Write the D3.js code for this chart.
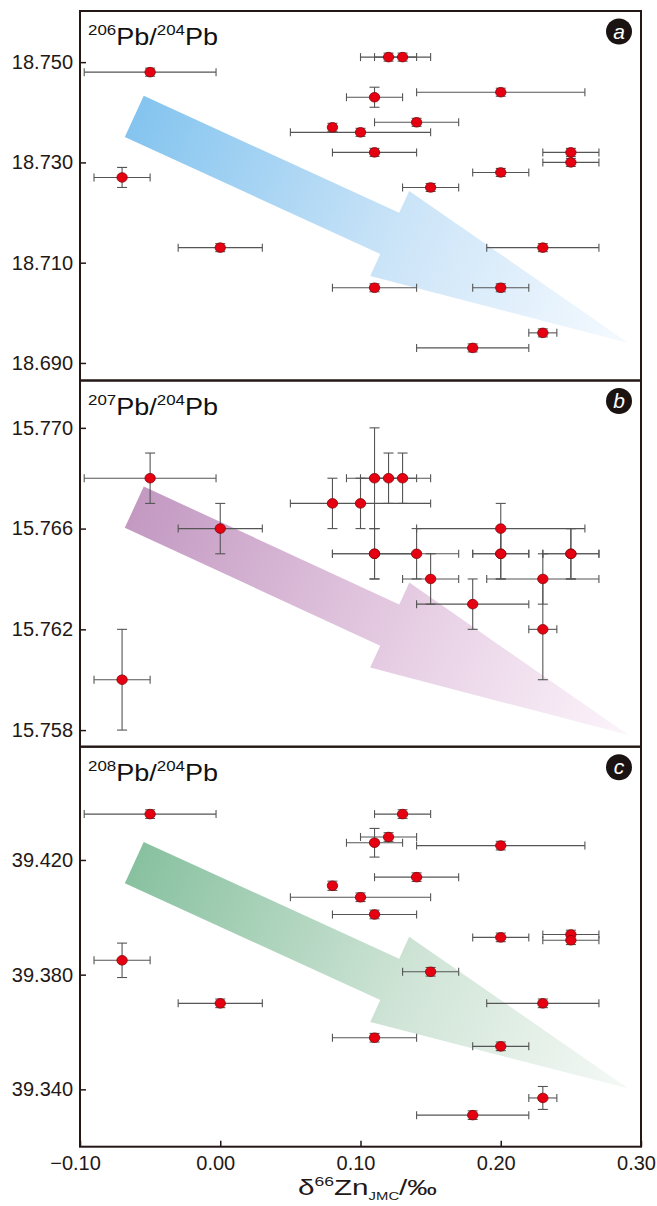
<!DOCTYPE html>
<html>
<head>
<meta charset="utf-8">
<script src="https://cdn.jsdelivr.net/npm/d3@7"></script>
<style>
  body { margin: 0; background: #ffffff; }
  svg { display: block; font-family: "Liberation Sans", Arial, sans-serif; }
</style>
</head>
<body>
<svg id="chart" width="657" height="1206"></svg>
<script>
// delta66Zn of each sample and its 2sd (same for all three panels)
let zn    = [-0.05, 0.12, 0.13, 0.11, 0.20, 0.08, 0.10, 0.14, 0.11, 0.25, 0.25, 0.20, 0.15, -0.07, 0.00, 0.23, 0.11, 0.20, 0.23, 0.18];
let znErr = [0.047, 0.02, 0.02, 0.02, 0.06, 0, 0.05, 0.03, 0.03, 0.02, 0.02, 0.02, 0.02, 0.02, 0.03, 0.04, 0.03, 0.02, 0.01, 0.04];

// lead isotope ratios
let pb206 = [18.748, 18.751, 18.751, 18.743, 18.744, 18.737, 18.736, 18.738, 18.732, 18.732, 18.730, 18.728, 18.725, 18.727, 18.713, 18.713, 18.705, 18.705, 18.696, 18.693];
let pb206Err = [0.0008, 0.0008, 0.0008, 0.002, 0.0008, 0.0008, 0.0008, 0.0008, 0.0008, 0.0008, 0.0008, 0.0008, 0.0008, 0.002, 0.0008, 0.0008, 0.0008, 0.0008, 0.0008, 0.0008];

let pb207 = [15.768, 15.768, 15.768, 15.768, 15.766, 15.767, 15.767, 15.765, 15.765, 15.765, 15.765, 15.765, 15.764, 15.760, 15.766, 15.764, 15.765, 15.765, 15.762, 15.763];
let pb207Err = [0.001, 0.001, 0.001, 0.002, 0.001, 0.001, 0.001, 0.001, 0.001, 0.001, 0.001, 0.001, 0.001, 0.002, 0.001, 0.001, 0.001, 0.001, 0.002, 0.001];

let pb208 = [39.436, 39.428, 39.436, 39.426, 39.425, 39.411, 39.407, 39.414, 39.401, 39.394, 39.392, 39.393, 39.381, 39.385, 39.370, 39.370, 39.358, 39.355, 39.337, 39.331];
let pb208Err = [0.0015, 0.0015, 0.0015, 0.005, 0.0015, 0.0016, 0.0015, 0.0015, 0.0015, 0.0015, 0.0015, 0.0015, 0.0015, 0.006, 0.0015, 0.0015, 0.0015, 0.0015, 0.004, 0.0015];

// axis ranges and tick labels
let xDomain = [-0.10, 0.30];
let xTicks  = [-0.10, 0.00, 0.10, 0.20, 0.30];
let yDomainA = [18.6865, 18.7602];
let yDomainB = [15.75734, 15.77188];
let yDomainC = [39.3200, 39.4595];
let yTicksA = [18.690, 18.710, 18.730, 18.750];
let yTicksB = [15.758, 15.762, 15.766, 15.770];
let yTicksC = [39.340, 39.380, 39.420];

// trend arrows, tail -> tip in data units [x0, y0, x1, y1]
let arrowA = [-0.0613, 18.7392, 0.291, 18.6940];
let arrowB = [-0.0613, 15.76685, 0.291, 15.7578];
let arrowC = [-0.0613, 39.4191, 0.291, 39.3403];

let chart = d3.select("#chart");
let left = 80, right = 641;
let frameColor = "#231815";
let barColor = "#555555";

// x position scale (shared)
let x = d3.scaleLinear()
    .domain(xDomain)
    .range([left, right]);

let panels = [
    { key: "a", top: 11,    bottom: 380.5,  ys: pb206, ye: pb206Err, dom: yDomainA, ticks: yTicksA, arrow: arrowA,
      num: "206", colors: ["#84c4ef", "#cde5f8", "#f5faff"] },
    { key: "b", top: 380.5, bottom: 746.7,  ys: pb207, ye: pb207Err, dom: yDomainB, ticks: yTicksB, arrow: arrowB,
      num: "207", colors: ["#c399c2", "#e6cde3", "#fcf4fb"] },
    { key: "c", top: 746.7, bottom: 1146.7, ys: pb208, ye: pb208Err, dom: yDomainC, ticks: yTicksC, arrow: arrowC,
      num: "208", colors: ["#88c1a0", "#cfe4d6", "#f5f9f6"] }
];

let defs = chart.append("defs");

panels.forEach(function(p) {
    let g = chart.append("g").attr("class", "panel-" + p.key);

    // y position scale
    let y = d3.scaleLinear()
        .domain(p.dom)
        .range([p.bottom, p.top]);

    // arrow (drawn first so it sits behind the points)
    let x0 = x(p.arrow[0]), y0 = y(p.arrow[1]);
    let x1 = x(p.arrow[2]), y1 = y(p.arrow[3]);
    let len = Math.hypot(x1 - x0, y1 - y0);
    let ux = (x1 - x0) / len, uy = (y1 - y0) / len;
    let nx = -uy, ny = ux;
    let hw = 22.7, HW = 46.8, neck = len * 0.517;
    let pts = [
        [x0 + nx * hw, y0 + ny * hw],
        [x0 + ux * neck + nx * hw, y0 + uy * neck + ny * hw],
        [x0 + ux * neck + nx * HW, y0 + uy * neck + ny * HW],
        [x1, y1],
        [x0 + ux * neck - nx * HW, y0 + uy * neck - ny * HW],
        [x0 + ux * neck - nx * hw, y0 + uy * neck - ny * hw],
        [x0 - nx * hw, y0 - ny * hw]
    ];
    let grad = defs.append("linearGradient")
        .attr("id", "grad-" + p.key)
        .attr("gradientUnits", "userSpaceOnUse")
        .attr("x1", x0).attr("y1", y0)
        .attr("x2", x1).attr("y2", y1);
    grad.append("stop").attr("offset", "0").attr("stop-color", p.colors[0]);
    grad.append("stop").attr("offset", "0.55").attr("stop-color", p.colors[1]);
    grad.append("stop").attr("offset", "1").attr("stop-color", p.colors[2]);
    g.append("polygon")
        .attr("points", pts.map(function(d) { return d.join(","); }).join(" "))
        .attr("fill", "url(#grad-" + p.key + ")");

    let data = zn.map(function(v, i) {
        return { x: v, xe: znErr[i], y: p.ys[i], ye: p.ye[i] };
    });

    // horizontal error bars
    let hx = data.filter(function(d) { return d.xe > 0; });
    g.selectAll("xbar")
        .data(hx).enter()
        .append("line")
        .attr("x1", function(d) { return x(d.x - d.xe); })
        .attr("x2", function(d) { return x(d.x + d.xe); })
        .attr("y1", function(d) { return y(d.y); })
        .attr("y2", function(d) { return y(d.y); })
        .attr("stroke", barColor).attr("stroke-width", 1.1);
    [-1, 1].forEach(function(s) {
        g.selectAll("xcap")
            .data(hx).enter()
            .append("line")
            .attr("x1", function(d) { return x(d.x + s * d.xe); })
            .attr("x2", function(d) { return x(d.x + s * d.xe); })
            .attr("y1", function(d) { return y(d.y) - 4; })
            .attr("y2", function(d) { return y(d.y) + 4; })
            .attr("stroke", barColor).attr("stroke-width", 1.1);
    });

    // vertical error bars
    g.selectAll("ybar")
        .data(data).enter()
        .append("line")
        .attr("x1", function(d) { return x(d.x); })
        .attr("x2", function(d) { return x(d.x); })
        .attr("y1", function(d) { return y(d.y - d.ye); })
        .attr("y2", function(d) { return y(d.y + d.ye); })
        .attr("stroke", barColor).attr("stroke-width", 1.1);
    [-1, 1].forEach(function(s) {
        g.selectAll("ycap")
            .data(data).enter()
            .append("line")
            .attr("x1", function(d) { return x(d.x) - 5; })
            .attr("x2", function(d) { return x(d.x) + 5; })
            .attr("y1", function(d) { return y(d.y + s * d.ye); })
            .attr("y2", function(d) { return y(d.y + s * d.ye); })
            .attr("stroke", barColor).attr("stroke-width", 1.1);
    });

    // points
    g.selectAll("dot")
        .data(data).enter()
        .append("ellipse")
        .attr("cx", function(d) { return x(d.x); })
        .attr("cy", function(d) { return y(d.y); })
        .attr("rx", 5.2)
        .attr("ry", 4.8)
        .attr("fill", "#e50012")
        .attr("stroke", "#7d0a0a")
        .attr("stroke-width", 0.8);

    // y axis, ticks pointing inside the frame
    let yAxis = d3.axisRight(y)
        .tickValues(p.ticks)
        .tickSize(6)
        .tickFormat(d3.format(".3f"));
    let yAxisGroup = g.append("g")
        .attr("transform", "translate(" + left + ",0)")
        .call(yAxis);
    yAxisGroup.select(".domain").remove();
    yAxisGroup.selectAll("line").attr("stroke", frameColor).attr("stroke-width", 1.5);
    yAxisGroup.selectAll("text")
        .attr("x", -7)
        .attr("text-anchor", "end")
        .style("font-size", "20px")
        .style("font-family", "'Liberation Sans', Arial, sans-serif")
        .style("fill", "#231815");

    // frame
    g.append("rect")
        .attr("x", left).attr("y", p.top)
        .attr("width", right - left).attr("height", p.bottom - p.top)
        .attr("fill", "none")
        .attr("stroke", frameColor)
        .attr("stroke-width", 2);

    // panel title
    let title = g.append("text")
        .attr("x", 88)
        .attr("y", p.top + 34)
        .attr("textLength", 130)
        .attr("lengthAdjust", "spacingAndGlyphs")
        .style("fill", "#111")
        .style("font-size", "24px");
    title.append("tspan").text(p.num).attr("dy", -10).style("font-size", "15px");
    title.append("tspan").text("Pb/").attr("dy", 10);
    title.append("tspan").text("204").attr("dy", -10).style("font-size", "15px");
    title.append("tspan").text("Pb").attr("dy", 10);

    // panel letter badge
    g.append("circle")
        .attr("cx", 619).attr("cy", p.top + 20.5)
        .attr("r", 13)
        .attr("fill", "#1a1311");
    g.append("text")
        .attr("x", 619).attr("y", p.top + 27.5)
        .attr("text-anchor", "middle")
        .style("font-size", "21px")
        .style("font-style", "italic")
        .style("fill", "#ffffff")
        .text(p.key);

    // x axis on the bottom panel only
    if (p.key === "c") {
        let xAxis = d3.axisTop(x)
            .tickValues(xTicks)
            .tickSize(6)
            .tickFormat(d3.format(".2f"));
        let xAxisGroup = g.append("g")
            .attr("transform", "translate(0," + p.bottom + ")")
            .call(xAxis);
        xAxisGroup.select(".domain").remove();
        xAxisGroup.selectAll("line").attr("stroke", frameColor).attr("stroke-width", 1.5);
        xAxisGroup.selectAll("text")
            .attr("x", -5)
            .attr("y", 23)
            .attr("dy", 0)
            .style("font-size", "20px")
            .style("font-family", "'Liberation Sans', Arial, sans-serif")
            .style("fill", "#231815");
    }
});

// x axis label
let xLabel = chart.append("text")
    .attr("x", 298)
    .attr("y", 1195)
    .attr("textLength", 139)
    .attr("lengthAdjust", "spacingAndGlyphs")
    .style("font-size", "22px")
    .style("fill", "#231815");
xLabel.append("tspan").text("δ");
xLabel.append("tspan").text("66").attr("dy", -9).style("font-size", "13px");
xLabel.append("tspan").text("Zn").attr("dy", 9);
xLabel.append("tspan").text("JMC").attr("dy", 5).style("font-size", "11px");
xLabel.append("tspan").text("/‰").attr("dy", -5);
</script>
</body>
</html>
